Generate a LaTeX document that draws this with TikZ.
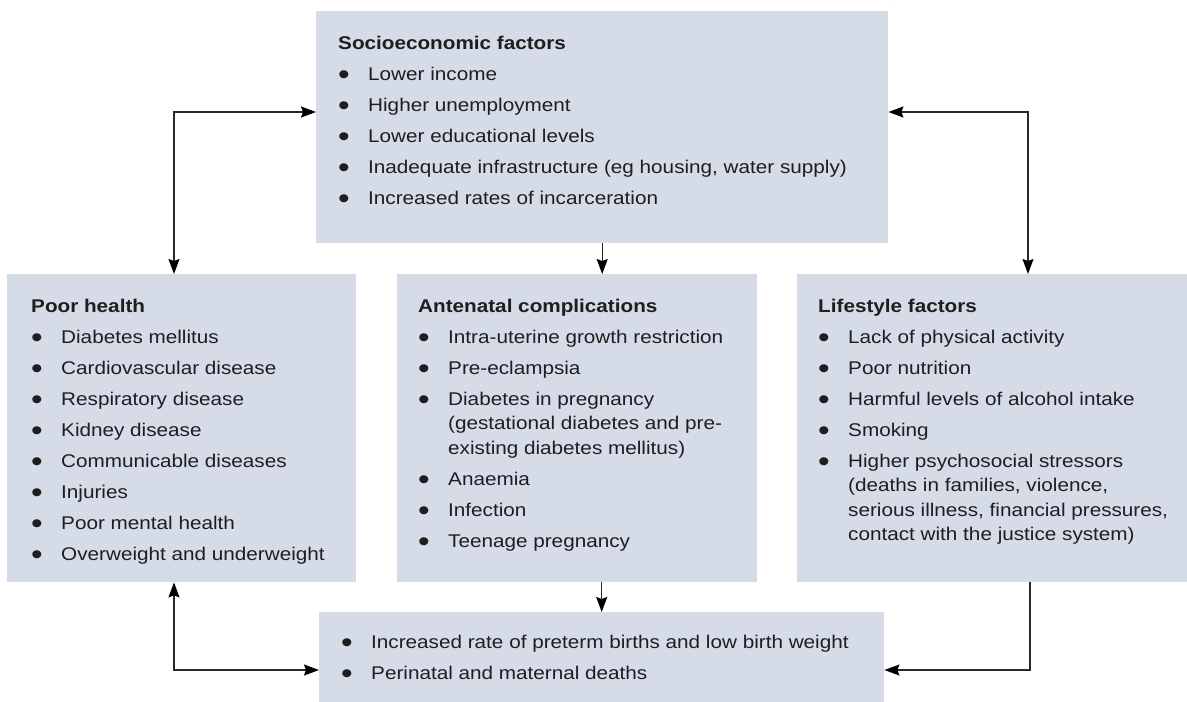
\documentclass[tikz,border=0pt]{standalone}
\usepackage{fontspec}
\setmainfont{Liberation Sans}[FakeStretch=1.125]
\usetikzlibrary{arrows.meta,calc}
\definecolor{boxfill}{RGB}{213,219,231}
\definecolor{ink}{RGB}{30,30,30}
\definecolor{linec}{RGB}{40,40,40}
\newcommand{\bul}{\makebox[30pt][l]{\raisebox{-4.2pt}{\scalebox{1.6}{\textbullet}}}}
\newcommand{\cont}{\hspace*{30pt}}
\begin{document}
\begin{tikzpicture}[x=1pt,y=-1pt,
  panel/.style={fill=boxfill,draw=none,inner sep=0pt,anchor=north west},
  body/.style={anchor=base west,align=left,inner sep=0pt,
    font=\fontsize{18.4}{24.5}\selectfont,text=ink},
  conn/.style={draw=linec,line width=1.3pt},
  arr/.tip={Stealth[length=15pt,width=11pt,inset=2pt,color=black]},
  tipend/.style={-arr},
  tipboth/.style={arr-arr},
]
\useasboundingbox (0,0) rectangle (1187,702);

% panels
\node[panel,minimum width=572pt,minimum height=232pt] (so) at (316,11) {};
\node[panel,minimum width=349pt,minimum height=308pt] (ph) at (7,274) {};
\node[panel,minimum width=360pt,minimum height=308pt] (an) at (397,274) {};
\node[panel,minimum width=390pt,minimum height=308pt] (ls) at (797,274) {};
\node[panel,minimum width=565pt,minimum height=90pt] (bt) at (319,612) {};

% texts (anchored at the baseline of their last line)
\node[body] (sot) at (338,204) {\textbf{Socioeconomic factors}\\[6.5pt]
\bul Lower income\\[6.5pt]
\bul Higher unemployment\\[6.5pt]
\bul Lower educational levels\\[6.5pt]
\bul Inadequate infrastructure (eg housing, water supply)\\[6.5pt]
\bul Increased rates of incarceration};

\node[body] (pht) at (31,560) {\textbf{Poor health}\\[6.5pt]
\bul Diabetes mellitus\\[6.5pt]
\bul Cardiovascular disease\\[6.5pt]
\bul Respiratory disease\\[6.5pt]
\bul Kidney disease\\[6.5pt]
\bul Communicable diseases\\[6.5pt]
\bul Injuries\\[6.5pt]
\bul Poor mental health\\[6.5pt]
\bul Overweight and underweight};

\node[body] (ant) at (418,547) {\textbf{Antenatal complications}\\[6.5pt]
\bul Intra-uterine growth restriction\\[6.5pt]
\bul Pre-eclampsia\\[6.5pt]
\bul Diabetes in pregnancy\\
\cont(gestational diabetes and pre-\\
\cont existing diabetes mellitus)\\[6.5pt]
\bul Anaemia\\[6.5pt]
\bul Infection\\[6.5pt]
\bul Teenage pregnancy};

\node[body] (lst) at (818,540.5) {\textbf{Lifestyle factors}\\[6.5pt]
\bul Lack of physical activity\\[6.5pt]
\bul Poor nutrition\\[6.5pt]
\bul Harmful levels of alcohol intake\\[6.5pt]
\bul Smoking\\[6.5pt]
\bul Higher psychosocial stressors\\
\cont(deaths in families, violence,\\
\cont serious illness, financial pressures,\\
\cont contact with the justice system)};

\node[body] (btt) at (341,679) {\bul Increased rate of preterm births and low birth weight\\[6.5pt]
\bul Perinatal and maternal deaths};

% connectors
\coordinate (lt) at (174,112);
\coordinate (rt) at (1028,112);
\coordinate (lb) at (174,670);
\coordinate (rb) at (1030,670);
\draw[conn,tipboth] (so.west |- lt) -- (lt) -- (lt |- ph.north);
\draw[conn,tipboth] (so.east |- rt) -- (rt) -- (rt |- ls.north);
\draw[conn,tipend] (so.south) -- (so.south |- an.north);
\draw[conn,tipend] (bt.north |- an.south) -- (bt.north);
\draw[conn,tipboth] (lb |- ph.south) -- (lb) -- (lb -| bt.west);
\draw[conn,tipend] (rb |- ls.south) -- (rb) -- (rb -| bt.east);
\end{tikzpicture}
\end{document}
